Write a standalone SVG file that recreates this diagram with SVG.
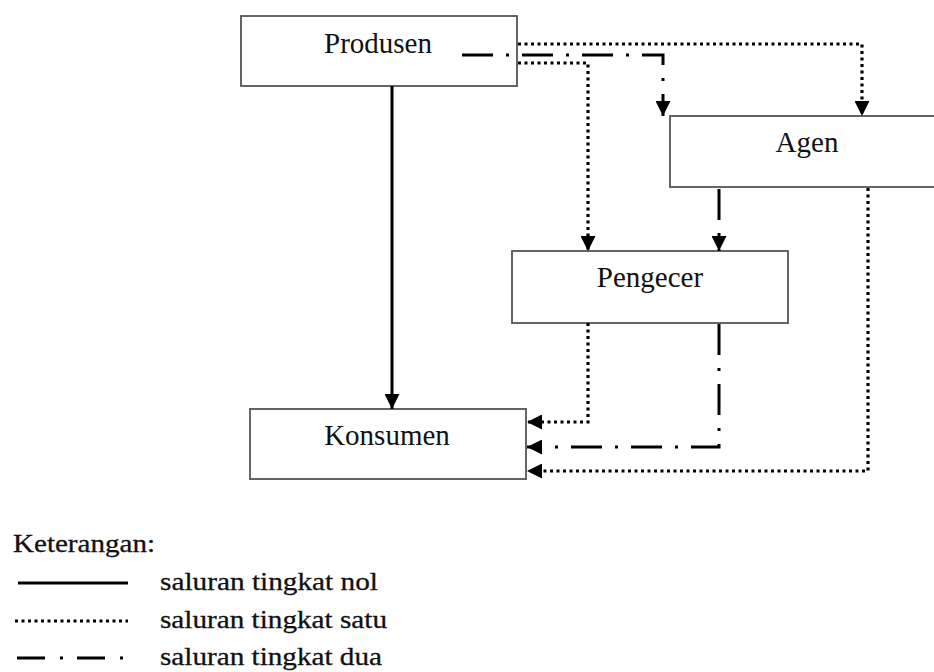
<svg xmlns="http://www.w3.org/2000/svg" width="934" height="672" viewBox="0 0 934 672">
  <style>
    .box { fill: #ffffff; stroke: #555555; stroke-width: 1.8; }
    .lbl { font-family: "Liberation Serif", "Times New Roman", serif; font-size: 29px; fill: #111111; text-anchor: middle; }
    .leg { font-family: "Liberation Serif", "Times New Roman", serif; font-size: 25px; fill: #111111; stroke: #111111; stroke-width: 0.3; }
    .solid { fill: none; stroke: #000; stroke-width: 3; }
    .dot { fill: none; stroke: #000; stroke-width: 3.2; stroke-dasharray: 3 3.5; }
    .dd { fill: none; stroke: #000; stroke-width: 3; stroke-dasharray: 31 13 3 13; }
  </style>
  <defs>
    <marker id="arr" viewBox="0 0 15 15" refX="15" refY="7.5" markerWidth="15" markerHeight="15" markerUnits="userSpaceOnUse" orient="auto">
      <path d="M0,0 L15,7.5 L0,15 z" fill="#000"/>
    </marker>
  </defs>

  <g id="node-produsen">
    <rect class="box" x="241" y="16" width="276" height="70"/>
    <text class="lbl" x="378" y="53">Produsen</text>
  </g>
  <g id="node-agen">
    <rect class="box" x="670" y="116" width="280" height="71"/>
    <text class="lbl" x="807" y="152">Agen</text>
  </g>
  <g id="node-pengecer">
    <rect class="box" x="512" y="251" width="276" height="72"/>
    <text class="lbl" x="650" y="287">Pengecer</text>
  </g>
  <g id="node-konsumen">
    <rect class="box" x="250" y="409" width="276" height="70"/>
    <text class="lbl" x="387" y="445">Konsumen</text>
  </g>

  <g id="connectors">
    <!-- saluran tingkat nol -->
    <path class="solid" d="M392,86 L392,409" marker-end="url(#arr)"/>
    <!-- saluran tingkat satu -->
    <path class="dot" d="M518,44 L862,44 L862,116" marker-end="url(#arr)"/>
    <path class="dot" d="M518,63 L588,63 L588,251" marker-end="url(#arr)"/>
    <path class="dot" d="M588,323 L588,422 L527,422" marker-end="url(#arr)"/>
    <path class="dot" d="M868,188 L868,471 L527,471" marker-end="url(#arr)"/>
    <!-- saluran tingkat dua -->
    <path class="dd" d="M462,55 L663,55 L663,116" marker-end="url(#arr)"/>
    <path class="dd" d="M719,189 L719,251" marker-end="url(#arr)"/>
    <path class="dd" d="M719,324 L719,447 L527,447" marker-end="url(#arr)"/>
  </g>

  <g id="legend">
    <text class="leg" x="13" y="552" textLength="142" lengthAdjust="spacingAndGlyphs">Keterangan:</text>
    <line class="solid" x1="18" y1="583" x2="128" y2="583"/>
    <text class="leg" x="160" y="590" textLength="218" lengthAdjust="spacingAndGlyphs">saluran tingkat nol</text>
    <line class="dot" x1="15" y1="621" x2="128" y2="621"/>
    <text class="leg" x="160" y="628" textLength="227" lengthAdjust="spacingAndGlyphs">saluran tingkat satu</text>
    <line x1="17" y1="658" x2="125" y2="658" stroke="#000" stroke-width="3" stroke-dasharray="28 15 3 14"/>
    <text class="leg" x="160" y="665" textLength="222" lengthAdjust="spacingAndGlyphs">saluran tingkat dua</text>
  </g>
</svg>
